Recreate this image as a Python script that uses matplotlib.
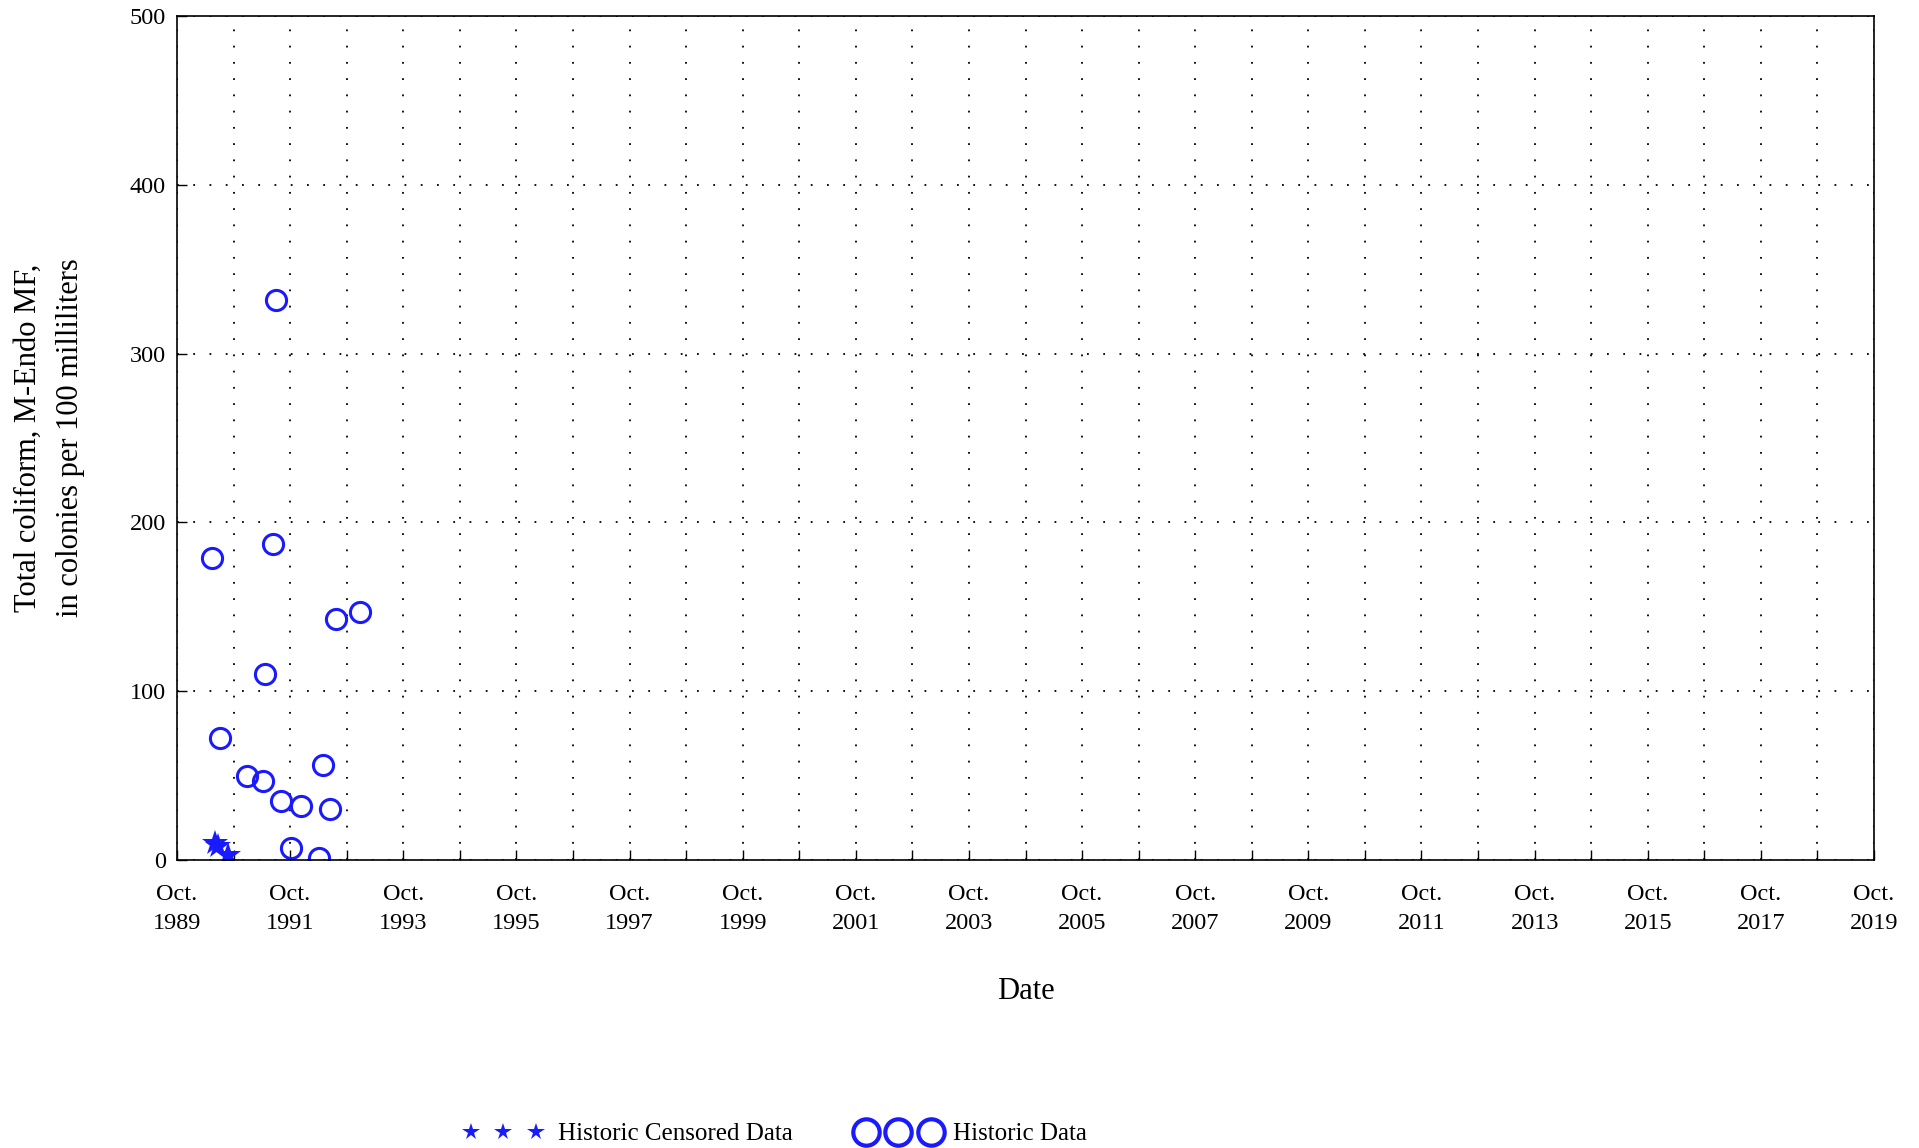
import matplotlib
matplotlib.use('Agg')
import matplotlib.pyplot as plt
from matplotlib.lines import Line2D
import pandas as pd
import datetime as dt

plt.rcParams['font.family'] = ['Liberation Serif', 'DejaVu Serif']

# historic data (colonies per 100 mL)
hist_dates = ['1990-05-18', '1990-07-04', '1990-12-26', '1991-04-08', '1991-04-24',
              '1991-06-10', '1991-07-02', '1991-08-04', '1991-10-05', '1991-12-10',
              '1992-04-05', '1992-05-01', '1992-06-17', '1992-07-23', '1992-12-23']
hist_values = [179, 72, 50, 47, 110, 187, 332, 35, 7, 32, 1, 56, 30, 143, 147]

# censored data
cens_dates = ['1990-06-02', '1990-06-20', '1990-08-25']
cens_values = [10, 8, 3]

tick_years = list(range(1989, 2020, 2))
y_ticks = [0, 100, 200, 300, 400, 500]

blue = '#1a1aff'

fig = plt.figure(figsize=(19.19, 11.48), dpi=100)
ax = fig.add_axes([177/1919, 1 - 860/1148, (1874 - 177)/1919, (860 - 16)/1148])

ax.plot(pd.to_datetime(hist_dates), hist_values, linestyle='none', marker='o',
        markersize=14.5, markerfacecolor='none', markeredgecolor=blue, markeredgewidth=2.2)
ax.plot(pd.to_datetime(cens_dates), cens_values, linestyle='none', marker='*',
        markersize=19, color=blue, markeredgewidth=0)

ax.set_xlim(dt.datetime(1989, 10, 1), dt.datetime(2019, 10, 1))
ax.set_ylim(0, 500)

ax.set_xticks([dt.datetime(y, 10, 1) for y in tick_years])
ax.set_xticklabels(['Oct.\n%d' % y for y in tick_years], linespacing=1.55)
ax.set_xticks([dt.datetime(y, 10, 1) for y in range(1989, 2020)], minor=True)
ax.set_yticks(y_ticks)

ax.tick_params(axis='both', which='both', direction='in', length=7, width=1,
               labelsize=17.5, top=False, right=False)
ax.tick_params(axis='x', which='major', pad=17)
ax.tick_params(axis='y', which='major', pad=8)

grid_style = dict(color='black', linestyle=(0, (1, 8)), linewidth=1.3)
ax.grid(True, axis='x', which='both', **grid_style)
ax.grid(True, axis='y', which='major', **grid_style)
for sp in ax.spines.values():
    sp.set_linewidth(1.2)

ax.set_xlabel('Date', fontsize=22, va='center')
ax.xaxis.set_label_coords(0.5, -0.156)
ax.set_ylabel('Total coliform, M-Endo MF,\nin colonies per 100 milliliters',
              fontsize=22, linespacing=1.6, va='center')
ax.yaxis.set_label_coords(-0.0754, 0.5)

h1 = Line2D([], [], linestyle='none', marker='*', markersize=13, color=blue,
            markeredgewidth=0)
h2 = Line2D([], [], linestyle='none', marker='o', markersize=19,
            markerfacecolor='none', markeredgecolor=blue, markeredgewidth=3)
fig.legend([h1, h2], ['Historic Censored Data', 'Historic Data'], loc='center',
           bbox_to_anchor=(0.404, 0.012), ncol=2, frameon=False, numpoints=3,
           fontsize=18, handlelength=3.2, handletextpad=0.6, columnspacing=2.6)

fig.savefig('out.png', dpi=100)
